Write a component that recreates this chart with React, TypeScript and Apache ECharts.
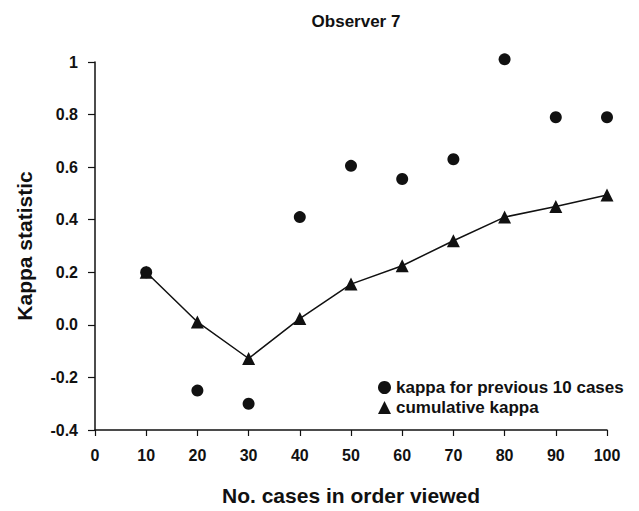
import React, { useEffect, useRef } from "react";
import * as echarts from "echarts";

const cases = [10, 20, 30, 40, 50, 60, 70, 80, 90, 100];
const kappaPrev10 = [0.2, -0.25, -0.3, 0.41, 0.605, 0.555, 0.63, 1.01, 0.79, 0.79];
const kappaCumulative = [0.2, 0.011, -0.128, 0.024, 0.155, 0.225, 0.32, 0.41, 0.45, 0.494];
const seriesNames = ["kappa for previous 10 cases", "cumulative kappa"];

const FONT = "'Liberation Sans', Arial, sans-serif";

export default function App() {
  const ref = useRef<HTMLDivElement>(null);
  useEffect(() => {
    if (!ref.current) return;
    const chart = echarts.init(ref.current, undefined, { renderer: "svg" });
    chart.setOption({
      animation: false,
      backgroundColor: "#ffffff",
      title: {
        text: "Observer 7",
        left: 351,
        top: 8,
        textAlign: "center",
        textStyle: { fontFamily: FONT, fontWeight: "bold", fontSize: 17, color: "#111" },
      },
      legend: {
        orient: "vertical",
        left: 373,
        top: 374,
        itemWidth: 13,
        itemHeight: 13,
        itemGap: 3,
        textStyle: { fontFamily: FONT, fontWeight: "bold", fontSize: 17, color: "#111" },
        data: [
          { name: seriesNames[0], icon: "circle" },
          { name: seriesNames[1], icon: "triangle" },
        ],
      },
      grid: { left: 95, right: 32, top: 62, bottom: 77 },
      xAxis: {
        type: "value",
        min: 0,
        max: 100,
        interval: 10,
        name: "No. cases in order viewed",
        nameLocation: "middle",
        nameGap: 55,
        nameTextStyle: { fontFamily: FONT, fontWeight: "bold", fontSize: 21, color: "#111" },
        axisLine: { onZero: false, lineStyle: { color: "#111", width: 1.5 } },
        axisTick: { length: 6, lineStyle: { color: "#111", width: 1.2 } },
        axisLabel: { margin: 17, fontFamily: FONT, fontWeight: "bold", fontSize: 16, color: "#111" },
        splitLine: { show: false },
      },
      yAxis: {
        type: "value",
        min: -0.4,
        max: 1,
        interval: 0.2,
        name: "Kappa statistic",
        nameLocation: "middle",
        nameGap: 60,
        nameTextStyle: { fontFamily: FONT, fontWeight: "bold", fontSize: 21, color: "#111" },
        axisLine: { show: true, lineStyle: { color: "#111", width: 1.5 } },
        axisTick: { show: true, length: 7, lineStyle: { color: "#111", width: 1.2 } },
        axisLabel: {
          margin: 17,
          fontFamily: FONT,
          fontWeight: "bold",
          fontSize: 16,
          color: "#111",
          formatter: (v: number) => (Math.abs(v - 1) < 1e-9 ? "1" : (Math.abs(v) < 1e-9 ? 0 : v).toFixed(1)),
        },
        splitLine: { show: false },
      },
      series: [
        {
          name: seriesNames[1],
          type: "line",
          data: cases.map((c, i) => [c, kappaCumulative[i]]),
          symbol: "triangle",
          symbolSize: 13,
          itemStyle: { color: "#111", opacity: 1 },
          lineStyle: { color: "#111", width: 1.5 },
          z: 2,
        },
        {
          name: seriesNames[0],
          type: "scatter",
          data: cases.map((c, i) => [c, kappaPrev10[i]]),
          symbol: "circle",
          symbolSize: 12,
          clip: false,
          itemStyle: { color: "#111", opacity: 1 },
          z: 3,
        },
      ],
    });
    return () => chart.dispose();
  }, []);
  return <div ref={ref} style={{ width: 639, height: 511, position: "absolute", left: 0, top: 0 }} />;
}
